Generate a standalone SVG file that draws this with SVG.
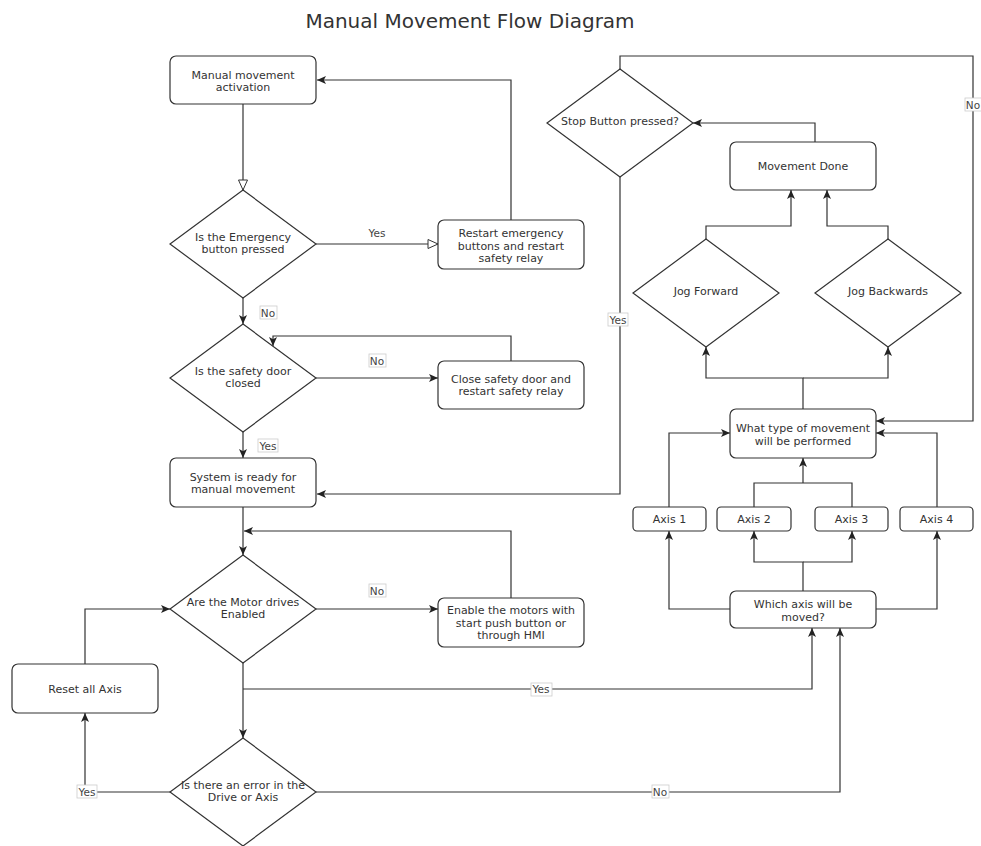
<svg xmlns="http://www.w3.org/2000/svg" width="981" height="846" viewBox="0 0 981 846">
<defs>
<style>
.n{fill:#fff;stroke:#333;stroke-width:1.2}
.t{font-family:"DejaVu Sans",Verdana,sans-serif;font-size:11px;fill:#333;text-anchor:middle}
.c{fill:none;stroke:#333;stroke-width:1.2}
.lb{fill:#fff;stroke:#ccc;stroke-width:0.8}
.lt{font-family:"DejaVu Sans",Verdana,sans-serif;font-size:10.5px;fill:#444;text-anchor:middle}
</style>
<marker id="a" viewBox="0 0 9 8" refX="9" refY="4" markerWidth="9" markerHeight="8" markerUnits="userSpaceOnUse" orient="auto">
<path d="M0,0 L9,4 L0,8 L2.2,4 Z" fill="#222"/>
</marker>
<marker id="h" viewBox="-1 -1 12 11" refX="10" refY="4.5" markerWidth="12" markerHeight="11" markerUnits="userSpaceOnUse" orient="auto">
<path d="M0,0 L10,4.5 L0,9 Z" fill="#fff" stroke="#333" stroke-width="1"/>
</marker>
</defs>
<rect width="981" height="846" fill="#fff"/>
<text x="470" y="28" font-family="'DejaVu Sans',Verdana,sans-serif" font-size="20" fill="#333" text-anchor="middle">Manual Movement Flow Diagram</text>

<g id="connectors">
<path class="c" d="M243,104 V190" marker-end="url(#h)"/>
<path class="c" d="M316,244 H438" marker-end="url(#h)"/>
<path class="c" d="M511,220 V80 H317" marker-end="url(#a)"/>
<path class="c" d="M243,298 V324" marker-end="url(#a)"/>
<path class="c" d="M316,378 H438" marker-end="url(#a)"/>
<path class="c" d="M511,361 V336 H273 V346" marker-end="url(#a)"/>
<path class="c" d="M243,432 V458" marker-end="url(#a)"/>
<path class="c" d="M243,507 V555" marker-end="url(#a)"/>
<path class="c" d="M511,598 V531 H244" marker-end="url(#a)"/>
<path class="c" d="M316,609 H438" marker-end="url(#a)"/>
<path class="c" d="M85,664 V609 H170" marker-end="url(#a)"/>
<path class="c" d="M243,663 V738" marker-end="url(#a)"/>
<path class="c" d="M243,689 H812 V628" marker-end="url(#a)"/>
<path class="c" d="M170,792 H85 V713" marker-end="url(#a)"/>
<path class="c" d="M316,792 H840 V628" marker-end="url(#a)"/>
<path class="c" d="M620,177 V494 H317" marker-end="url(#a)"/>
<path class="c" d="M620,69 V56 H973 V421 H876" marker-end="url(#a)"/>
<path class="c" d="M815,142 V123 H693" marker-end="url(#a)"/>
<path class="c" d="M706,239 V226 H791 V190" marker-end="url(#a)"/>
<path class="c" d="M888,239 V226 H827 V190" marker-end="url(#a)"/>
<path class="c" d="M803,409 V378 H706 V347" marker-end="url(#a)"/>
<path class="c" d="M803,378 H888 V347" marker-end="url(#a)"/>
<path class="c" d="M669,507 V433 H730" marker-end="url(#a)"/>
<path class="c" d="M937,507 V433 H876" marker-end="url(#a)"/>
<path class="c" d="M754,507 V483 H852 V507"/>
<path class="c" d="M803,483 V458" marker-end="url(#a)"/>
<path class="c" d="M803,591 V562 H754 V531" marker-end="url(#a)"/>
<path class="c" d="M803,562 H852 V531" marker-end="url(#a)"/>
<path class="c" d="M730,609 H669 V531" marker-end="url(#a)"/>
<path class="c" d="M876,609 H937 V531" marker-end="url(#a)"/>
<text class="lt" x="377" y="237">Yes</text>
<rect class="lb" x="260" y="306" width="17" height="13"/><text class="lt" x="268" y="317">No</text>
<rect class="lb" x="369" y="354" width="17" height="13"/><text class="lt" x="377" y="365">No</text>
<rect class="lb" x="258" y="439" width="20" height="13"/><text class="lt" x="268" y="450">Yes</text>
<rect class="lb" x="369" y="584" width="17" height="13"/><text class="lt" x="377" y="595">No</text>
<rect class="lb" x="531" y="683" width="21" height="13" stroke="none"/><text class="lt" x="541" y="693">Yes</text>
<rect class="lb" x="77" y="785" width="20" height="13"/><text class="lt" x="87" y="796">Yes</text>
<rect class="lb" x="652" y="785" width="17" height="13"/><text class="lt" x="660" y="796">No</text>
<rect class="lb" x="608" y="313" width="20" height="13"/><text class="lt" x="618" y="324">Yes</text>
<rect class="lb" x="965" y="98" width="17" height="13"/><text class="lt" x="973" y="109">No</text>
</g>

<g id="n_activation"><rect class="n" x="170" y="56" width="146" height="48" rx="6"/><text class="t" x="243" y="79">Manual movement</text><text class="t" x="243" y="91">activation</text></g>
<g id="d_emergency"><path class="n" d="M243,190 L316,244 L243,298 L170,244 Z"/><text class="t" x="243" y="241">Is the Emergency</text><text class="t" x="243" y="253">button pressed</text></g>
<g id="n_restart"><rect class="n" x="438" y="220" width="146" height="49" rx="6"/><text class="t" x="511" y="237">Restart emergency</text><text class="t" x="511" y="249.5">buttons and restart</text><text class="t" x="511" y="262">safety relay</text></g>
<g id="d_door"><path class="n" d="M243,324 L316,378 L243,432 L170,378 Z"/><text class="t" x="243" y="375">Is the safety door</text><text class="t" x="243" y="387">closed</text></g>
<g id="n_close"><rect class="n" x="438" y="361" width="146" height="48" rx="6"/><text class="t" x="511" y="383">Close safety door and</text><text class="t" x="511" y="395">restart safety relay</text></g>
<g id="n_ready"><rect class="n" x="170" y="458" width="146" height="49" rx="6"/><text class="t" x="243" y="481">System is ready for</text><text class="t" x="243" y="493">manual movement</text></g>
<g id="d_motor"><path class="n" d="M243,555 L316,609 L243,663 L170,609 Z"/><text class="t" x="243" y="606">Are the Motor drives</text><text class="t" x="243" y="618">Enabled</text></g>
<g id="n_enable"><rect class="n" x="438" y="598" width="146" height="49" rx="6"/><text class="t" x="511" y="614">Enable the motors with</text><text class="t" x="511" y="626.5">start push button or</text><text class="t" x="511" y="639">through HMI</text></g>
<g id="n_reset"><rect class="n" x="12" y="664" width="146" height="49" rx="6"/><text class="t" x="85" y="693">Reset all Axis</text></g>
<g id="d_error"><path class="n" d="M243,738 L316,792 L243,846 L170,792 Z"/><text class="t" x="243" y="789">Is there an error in the</text><text class="t" x="243" y="801">Drive or Axis</text></g>
<g id="d_stop"><path class="n" d="M620,69 L693,123 L620,177 L547,123 Z"/><text class="t" x="620" y="125">Stop Button pressed?</text></g>
<g id="n_done"><rect class="n" x="730" y="142" width="146" height="48" rx="6"/><text class="t" x="803" y="170">Movement Done</text></g>
<g id="d_jogf"><path class="n" d="M706,239 L779,293 L706,347 L633,293 Z"/><text class="t" x="706" y="295">Jog Forward</text></g>
<g id="d_jogb"><path class="n" d="M888,239 L961,293 L888,347 L815,293 Z"/><text class="t" x="888" y="295">Jog Backwards</text></g>
<g id="n_whattype"><rect class="n" x="730" y="409" width="146" height="49" rx="6"/><text class="t" x="803" y="432">What type of movement</text><text class="t" x="803" y="444.5">will be performed</text></g>
<g id="n_axis1"><rect class="n" x="633" y="507" width="73" height="24" rx="4"/><text class="t" x="669.5" y="523">Axis 1</text></g>
<g id="n_axis2"><rect class="n" x="717" y="507" width="74" height="24" rx="4"/><text class="t" x="754" y="523">Axis 2</text></g>
<g id="n_axis3"><rect class="n" x="815" y="507" width="73" height="24" rx="4"/><text class="t" x="851.5" y="523">Axis 3</text></g>
<g id="n_axis4"><rect class="n" x="900" y="507" width="73" height="24" rx="4"/><text class="t" x="936.5" y="523">Axis 4</text></g>
<g id="n_which"><rect class="n" x="730" y="591" width="146" height="37" rx="6"/><text class="t" x="803" y="608">Which axis will be</text><text class="t" x="803" y="620.5">moved?</text></g>
</svg>
